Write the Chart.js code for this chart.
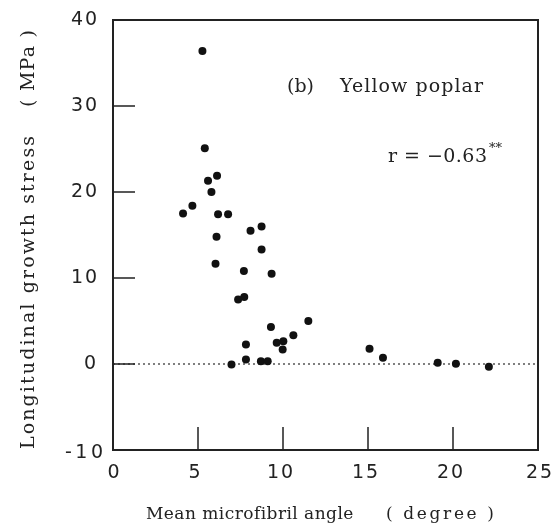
<!DOCTYPE html>
<html><head><meta charset="utf-8">
<script src="https://cdn.jsdelivr.net/npm/chart.js@4/dist/chart.umd.min.js"></script>
<style>html,body{margin:0;padding:0;background:#fff}#wrap{width:554px;height:531px}</style>
</head><body><div id="wrap"><canvas id="c" width="554" height="531"></canvas></div>
<script>
// ---- data ----
const angleX  = [5.26, 5.40, 6.12, 5.59, 5.79, 4.12, 4.67, 6.18, 6.77, 8.09, 8.74, 6.09, 8.74, 6.03, 7.70, 9.33, 7.36, 7.72, 9.29, 11.49, 10.61, 7.82, 9.63, 10.02, 9.98, 15.09, 15.88, 6.97, 7.82, 8.70, 9.10, 19.10, 20.17, 22.11];
const stressY = [36.4, 25.1, 21.9, 21.3, 20.0, 17.5, 18.4, 17.4, 17.4, 15.5, 16.0, 14.8, 13.3, 11.65, 10.8, 10.5, 7.5, 7.8, 4.3, 5.0, 3.35, 2.27, 2.47, 2.65, 1.69, 1.77, 0.72, -0.06, 0.52, 0.33, 0.33, 0.14, 0.02, -0.33];
const xTickValues = [0, 5, 10, 15, 20, 25];
const xTickLabels = ['0', '5', '10', '15', '20', '25'];
const yTickValues = [-10, 0, 10, 20, 30, 40];
const yTickLabels = ['-10', '0', '10', '20', '30', '40'];
const xInnerTicks = [5, 10, 15, 20];
const yInnerTicks = [0, 10, 20, 30];
const xTitle = 'Mean microfibril angle';
const xUnit = '( degree )';
const yTitle = 'Longitudinal growth stress';
const yUnit = '( MPa )';
const panelLabel = '(b)';
const speciesLabel = 'Yellow poplar';
const corrLabel = 'r = \u22120.63';
const corrSig = '**';

const points = angleX.map((x, i) => ({x: x, y: stressY[i]}));
const zeroLine = [{x: 0, y: 0}, {x: 25, y: 0}];

function spacedText(ctx, text, x, y, width) {
  ctx.letterSpacing = '0px';
  const w = ctx.measureText(text).width;
  const n = text.length;
  const ls = n > 1 ? Math.max(0, (width - w) / (n - 1)) : 0;
  if ('letterSpacing' in ctx) {
    ctx.letterSpacing = ls + 'px';
    ctx.fillText(text, x, y);
    ctx.letterSpacing = '0px';
  } else {
    let cx = x;
    for (const ch of text) { ctx.fillText(ch, cx, y); cx += ctx.measureText(ch).width + ls; }
  }
}

const framePlugin = {
  id: 'frame',
  afterDraw(chart) {
    const ctx = chart.ctx, xs = chart.scales.x, ys = chart.scales.y;
    const L = xs.getPixelForValue(0), R = xs.getPixelForValue(25);
    const T = ys.getPixelForValue(40), B = ys.getPixelForValue(-10);
    ctx.save();
    ctx.strokeStyle = '#222';
    ctx.lineWidth = 2;
    ctx.strokeRect(L, T, R - L, B - T);
    ctx.lineWidth = 1.5;
    ctx.beginPath();
    xInnerTicks.forEach(v => { const px = xs.getPixelForValue(v); ctx.moveTo(px, B); ctx.lineTo(px, B - 23); });
    yInnerTicks.forEach(v => { const py = ys.getPixelForValue(v); ctx.moveTo(L, py); ctx.lineTo(L + 22, py); });
    ctx.stroke();

    ctx.fillStyle = '#222';
    ctx.textBaseline = 'middle';
    ctx.textAlign = 'left';
    // x tick labels
    ctx.font = '19px "DejaVu Sans", sans-serif';
    xTickValues.forEach((v, i) => {
      const t = xTickLabels[i];
      const w = t.length > 1 ? 26 : 13;
      const shift = (v === 0 || v === 25) ? 1 : -3;
      spacedText(ctx, t, xs.getPixelForValue(v) + shift - w / 2, 473, w);
    });
    // y tick labels
    yTickValues.forEach((v, i) => {
      const t = yTickLabels[i];
      if (v === -10) { spacedText(ctx, t, 103 - 38, ys.getPixelForValue(v) + 3, 38); return; }
      const w = t.length === 2 ? 26 : 13;
      spacedText(ctx, t, 97 - w, ys.getPixelForValue(v), w);
    });
    // axis titles
    ctx.font = '17px "DejaVu Serif", serif';
    spacedText(ctx, xTitle, 146, 515, 207);
    spacedText(ctx, xUnit, 386, 515, 108);
    ctx.font = '19px "DejaVu Serif", serif';
    ctx.save();
    ctx.translate(29, 449);
    ctx.rotate(-Math.PI / 2);
    spacedText(ctx, yTitle, 0, 0, 313);
    ctx.restore();
    ctx.save();
    ctx.translate(29, 107);
    ctx.rotate(-Math.PI / 2);
    spacedText(ctx, yUnit, 0, 0, 77);
    ctx.restore();
    // annotations
    ctx.font = '19px "DejaVu Serif", serif';
    spacedText(ctx, panelLabel, 287, 87, 26);
    spacedText(ctx, speciesLabel, 340, 87, 143);
    spacedText(ctx, corrLabel, 388, 157, 99);
    ctx.font = '13px "DejaVu Serif", serif';
    ctx.fillText(corrSig, 489, 149);
    ctx.restore();
  }
};

new Chart(document.getElementById('c'), {
  data: {
    datasets: [
      {type: 'line', data: zeroLine, borderColor: '#555', borderWidth: 1.5, borderDash: [2, 3], pointRadius: 0, order: 2},
      {type: 'scatter', data: points, backgroundColor: '#111', borderColor: '#111', pointRadius: 4, pointBorderWidth: 0, order: 1}
    ]
  },
  options: {
    responsive: false,
    animation: false,
    devicePixelRatio: 1,
    layout: {padding: {left: 113, right: 16, top: 20, bottom: 81}},
    scales: {
      x: {type: 'linear', min: 0, max: 25, display: false},
      y: {type: 'linear', min: -10, max: 40, display: false}
    },
    plugins: {legend: {display: false}, tooltip: {enabled: false}},
    clip: false
  },
  plugins: [framePlugin]
});
</script>
</body></html>
